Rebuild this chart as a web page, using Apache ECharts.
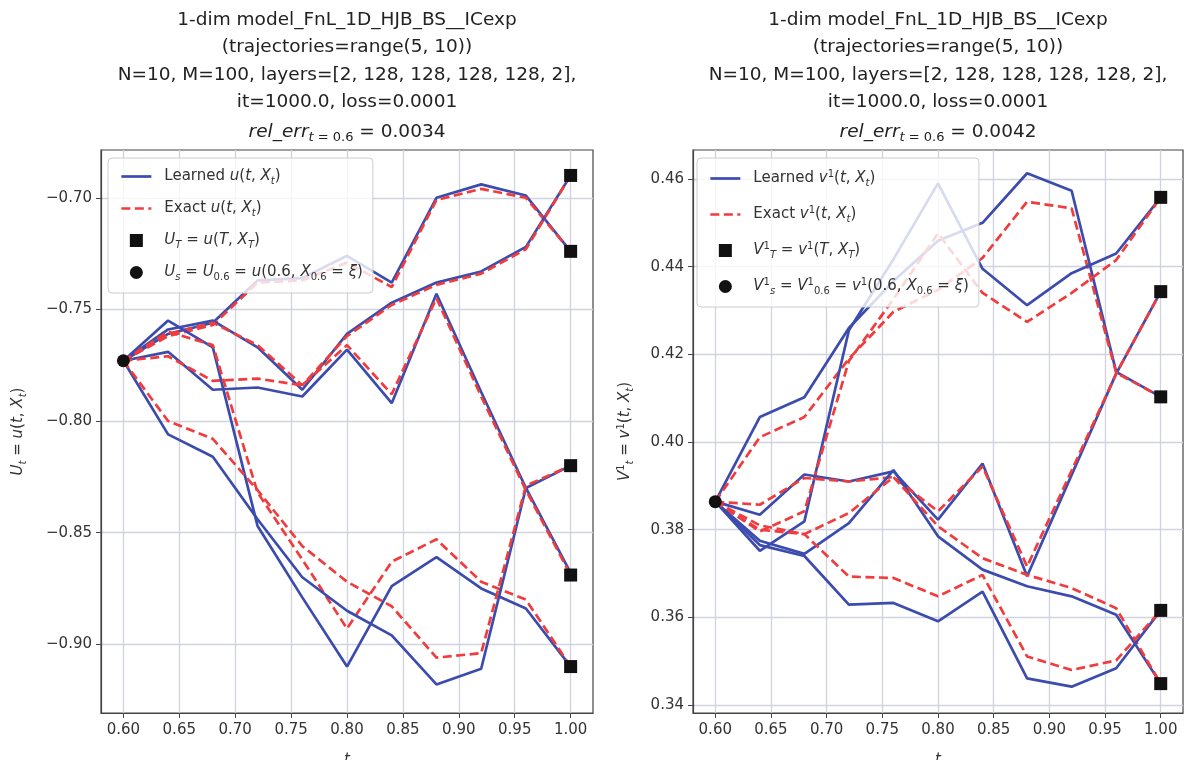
<!DOCTYPE html>
<html>
<head>
<meta charset="utf-8">
<script src="https://cdn.jsdelivr.net/npm/echarts@6/dist/echarts.min.js"></script>
<style>
  html, body { margin: 0; padding: 0; background: #fff; }
  #chart { width: 1184px; height: 760px; }
</style>
</head>
<body>
<div id="chart"></div>
<script>
// time grid (N=10 steps from 0.6 to 1.0)
const tGrid = [0.60, 0.64, 0.68, 0.72, 0.76, 0.80, 0.84, 0.88, 0.92, 0.96, 1.00];

// left panel: u(t, X_t), one row per trajectory
const uLearned = [
    [-0.773, -0.761, -0.756, -0.737, -0.736, -0.726, -0.738, -0.700, -0.694, -0.699, -0.724],
    [-0.773, -0.759, -0.755, -0.767, -0.786, -0.761, -0.747, -0.738, -0.733, -0.722, -0.690],
    [-0.773, -0.769, -0.786, -0.785, -0.789, -0.768, -0.792, -0.743, -0.787, -0.830, -0.868],
    [-0.773, -0.755, -0.767, -0.847, -0.879, -0.910, -0.874, -0.861, -0.875, -0.884, -0.910],
    [-0.773, -0.806, -0.816, -0.844, -0.870, -0.885, -0.896, -0.918, -0.911, -0.830, -0.820]
];
const uExact = [
    [-0.773, -0.762, -0.757, -0.738, -0.737, -0.729, -0.740, -0.701, -0.696, -0.700, -0.724],
    [-0.773, -0.761, -0.756, -0.766, -0.784, -0.762, -0.748, -0.739, -0.734, -0.723, -0.690],
    [-0.773, -0.771, -0.782, -0.781, -0.784, -0.766, -0.788, -0.745, -0.789, -0.831, -0.869],
    [-0.773, -0.760, -0.766, -0.832, -0.862, -0.893, -0.863, -0.853, -0.872, -0.880, -0.910],
    [-0.773, -0.800, -0.808, -0.831, -0.856, -0.872, -0.883, -0.906, -0.904, -0.829, -0.820]
];

// right panel: v^1(t, X_t)
const vLearned = [
    [0.3864, 0.4057, 0.4102, 0.4260, 0.4367, 0.4459, 0.4500, 0.4613, 0.4573, 0.4160, 0.4103],
    [0.3864, 0.3752, 0.3819, 0.4255, 0.4417, 0.4590, 0.4395, 0.4312, 0.4385, 0.4430, 0.4558],
    [0.3864, 0.3834, 0.3926, 0.3910, 0.3933, 0.3823, 0.3951, 0.3694, 0.3925, 0.4156, 0.4343],
    [0.3864, 0.3775, 0.3745, 0.3815, 0.3936, 0.3785, 0.3709, 0.3671, 0.3648, 0.3606, 0.3449],
    [0.3864, 0.3765, 0.3740, 0.3629, 0.3633, 0.3591, 0.3659, 0.3461, 0.3442, 0.3484, 0.3616]
];
const vExact = [
    [0.3864, 0.4011, 0.4057, 0.4190, 0.4297, 0.4347, 0.4420, 0.4548, 0.4533, 0.4158, 0.4103],
    [0.3864, 0.3796, 0.3842, 0.4185, 0.4326, 0.4476, 0.4340, 0.4274, 0.4340, 0.4415, 0.4558],
    [0.3864, 0.3857, 0.3918, 0.3910, 0.3920, 0.3842, 0.3944, 0.3716, 0.3935, 0.4156, 0.4343],
    [0.3864, 0.3810, 0.3790, 0.3838, 0.3920, 0.3808, 0.3735, 0.3697, 0.3667, 0.3621, 0.3449],
    [0.3864, 0.3800, 0.3790, 0.3693, 0.3690, 0.3648, 0.3697, 0.3511, 0.3480, 0.3502, 0.3616]
];

// tick labels
const xTicks = [0.60, 0.65, 0.70, 0.75, 0.80, 0.85, 0.90, 0.95, 1.00];
const uTicks = [-0.90, -0.85, -0.80, -0.75, -0.70];
const vTicks = [0.34, 0.36, 0.38, 0.40, 0.42, 0.44, 0.46];

// texts
const titleU = ['1-dim model_FnL_1D_HJB_BS__ICexp', '(trajectories=range(5, 10))',
    'N=10, M=100, layers=[2, 128, 128, 128, 128, 2],', 'it=1000.0, loss=0.0001',
    '{i|rel_err}{s|t}{sn| = 0.6} = 0.0034'];
const titleV = ['1-dim model_FnL_1D_HJB_BS__ICexp', '(trajectories=range(5, 10))',
    'N=10, M=100, layers=[2, 128, 128, 128, 128, 2],', 'it=1000.0, loss=0.0001',
    '{i|rel_err}{s|t}{sn| = 0.6} = 0.0042'];
const legendU = {
    uLearned: 'Learned {i|u}({i|t}, {i|X}{s|t})',
    uExact: 'Exact {i|u}({i|t}, {i|X}{s|t})',
    uT: '{i|U}{s|T} = {i|u}({i|T}, {i|X}{s|T})',
    uS: '{i|U}{s|s} = {i|U}{sn|0.6} = {i|u}(0.6, {i|X}{sn|0.6} = {i|ξ})'
};
const legendV = {
    vLearned: 'Learned {i|v}{p|1}({i|t}, {i|X}{s|t})',
    vExact: 'Exact {i|v}{p|1}({i|t}, {i|X}{s|t})',
    vT: '{i|V}{p|1}{s|T} = {i|v}{p|1}({i|T}, {i|X}{s|T})',
    vS: '{i|V}{p|1}{s|s} = {i|V}{p|1}{sn|0.6} = {i|v}{p|1}(0.6, {i|X}{sn|0.6} = {i|ξ})'
};

const FONT = 'DejaVu Sans';
const BLUE = '#3c4cae';
const RED = '#f03c3c';
const GRIDC = '#d0d3dd';

const rich = {
    i: { fontStyle: 'italic', fontFamily: FONT, fontSize: 15, color: '#333' },
    s: { fontStyle: 'italic', fontFamily: FONT, fontSize: 10, color: '#333', padding: [9, 0, 0, 0] },
    sn: { fontFamily: FONT, fontSize: 10, color: '#333', padding: [9, 0, 0, 0] },
    p: { fontFamily: FONT, fontSize: 10, color: '#333', padding: [0, 0, 9, 0] }
};
const titleRich = {
    i: { fontStyle: 'italic', fontFamily: FONT, fontSize: 18.5, color: '#222', lineHeight: 33 },
    s: { fontStyle: 'italic', fontFamily: FONT, fontSize: 13, color: '#222', padding: [10, 0, 0, 0], lineHeight: 33 },
    sn: { fontFamily: FONT, fontSize: 13, color: '#222', padding: [10, 0, 0, 0], lineHeight: 33 }
};

function minusFmt(v){
    return v.toFixed(2).replace('-', '\u2212');
}

function fnc_pair(xs, ys){
    return xs.map((x, i) => [x, ys[i]]);
}

function fnc_build_series(learned, exact, idx, names){
    let series = [];
    for(let k in learned){
        series.push({
            type: 'line', name: names[0], xAxisIndex: idx, yAxisIndex: idx,
            data: fnc_pair(tGrid, learned[k]), symbol: 'none', z: 2,
            lineStyle: { color: BLUE, width: 2.7 }, itemStyle: { color: BLUE }
        });
        series.push({
            type: 'line', name: names[1], xAxisIndex: idx, yAxisIndex: idx,
            data: fnc_pair(tGrid, exact[k]), symbol: 'none', z: 2,
            lineStyle: { color: RED, width: 2.7, type: [9, 4.5] }, itemStyle: { color: RED }
        });
    }
    const last = tGrid.length - 1;
    series.push({
        type: 'scatter', name: names[2], xAxisIndex: idx, yAxisIndex: idx, z: 3,
        symbol: 'rect', symbolSize: 13, itemStyle: { color: '#111', opacity: 1 },
        data: exact.map(r => [tGrid[last], r[last]])
    });
    series.push({
        type: 'scatter', name: names[3], xAxisIndex: idx, yAxisIndex: idx, z: 3,
        symbol: 'circle', symbolSize: 13, itemStyle: { color: '#111', opacity: 1 },
        data: [[tGrid[0], exact[0][0]]]
    });
    return series;
}

function fnc_xaxis(idx){
    return {
        type: 'value', gridIndex: idx, min: 0.58, max: 1.02,
        name: 't', nameLocation: 'middle', nameGap: 40,
        nameTextStyle: { fontFamily: FONT, fontStyle: 'italic', fontSize: 15, color: '#333' },
        axisLine: { show: true, lineStyle: { color: '#444', width: 1.2 } },
        axisTick: { show: true, length: 5, customValues: xTicks, lineStyle: { color: '#444' } },
        axisLabel: { customValues: xTicks, formatter: v => v.toFixed(2), fontFamily: FONT, fontSize: 15, color: '#333', margin: 10 },
        splitLine: { show: true, lineStyle: { color: GRIDC, width: 1.3 } }
    };
}

function fnc_yaxis(idx, min, max, ticks, name, gap){
    return {
        type: 'value', gridIndex: idx, min: min, max: max,
        name: name, nameLocation: 'middle', nameGap: gap,
        nameTextStyle: { fontFamily: FONT, fontSize: 15, color: '#333', rich: rich },
        axisLine: { show: true, lineStyle: { color: '#444', width: 1.2 } },
        axisTick: { show: true, length: 5, customValues: ticks, lineStyle: { color: '#444' } },
        axisLabel: { customValues: ticks, formatter: minusFmt, fontFamily: FONT, fontSize: 15, color: '#333', margin: 9 },
        splitLine: { show: true, lineStyle: { color: GRIDC, width: 1.3 } }
    };
}

function fnc_legend(left, map, names, gap){
    return {
        orient: 'vertical', left: left, top: 158,
        padding: [11, 10, 11, 12], itemGap: gap, itemWidth: 30, itemHeight: 13,
        backgroundColor: 'rgba(255,255,255,0.8)', borderColor: '#cccccc', borderWidth: 1, borderRadius: 4,
        z: 10,
        data: [
            { name: names[0], itemStyle: { opacity: 0 }, lineStyle: { width: 2.7 } },
            { name: names[1], itemStyle: { opacity: 0 }, lineStyle: { width: 2.7 } },
            { name: names[2], icon: 'path://M0,0L10,0L10,10L0,10Z' },
            { name: names[3], icon: 'circle' }
        ],
        formatter: name => map[name],
        textStyle: { fontFamily: FONT, fontSize: 15, color: '#333', padding: [0, 0, 0, 8], rich: rich }
    };
}

function fnc_title(lines, cx){
    return {
        text: lines.join('\n'), left: cx, top: 6, textAlign: 'center', padding: 0,
        textStyle: { fontFamily: FONT, fontSize: 18.5, fontWeight: 'normal', color: '#222', lineHeight: 27.5, rich: titleRich }
    };
}

const uNames = ['uLearned', 'uExact', 'uT', 'uS'];
const vNames = ['vLearned', 'vExact', 'vT', 'vS'];

const option = {
    animation: false,
    backgroundColor: '#fff',
    title: [fnc_title(titleU, 347), fnc_title(titleV, 938)],
    legend: [fnc_legend(108, legendU, uNames, 15), fnc_legend(697, legendV, vNames, 17)],
    grid: [
        { left: 101, right: 591, top: 150, bottom: 47, containLabel: false, outerBoundsMode: 'none', show: true, borderColor: '#444', borderWidth: 1.2 },
        { left: 693, right: 1, top: 150, bottom: 47, containLabel: false, outerBoundsMode: 'none', show: true, borderColor: '#444', borderWidth: 1.2 }
    ],
    xAxis: [fnc_xaxis(0), fnc_xaxis(1)],
    yAxis: [
        fnc_yaxis(0, -0.9308, -0.6786, uTicks, '{i|U}{s|t} = {i|u}({i|t}, {i|X}{s|t})', 73),
        fnc_yaxis(1, 0.3382, 0.4666, vTicks, '{i|V}{p|1}{s|t} = {i|v}{p|1}({i|t}, {i|X}{s|t})', 58)
    ],
    series: fnc_build_series(uLearned, uExact, 0, uNames).concat(fnc_build_series(vLearned, vExact, 1, vNames))
};

let chart = echarts.init(document.getElementById('chart'), null, { renderer: 'canvas' });
chart.setOption(option);
</script>
</body>
</html>
